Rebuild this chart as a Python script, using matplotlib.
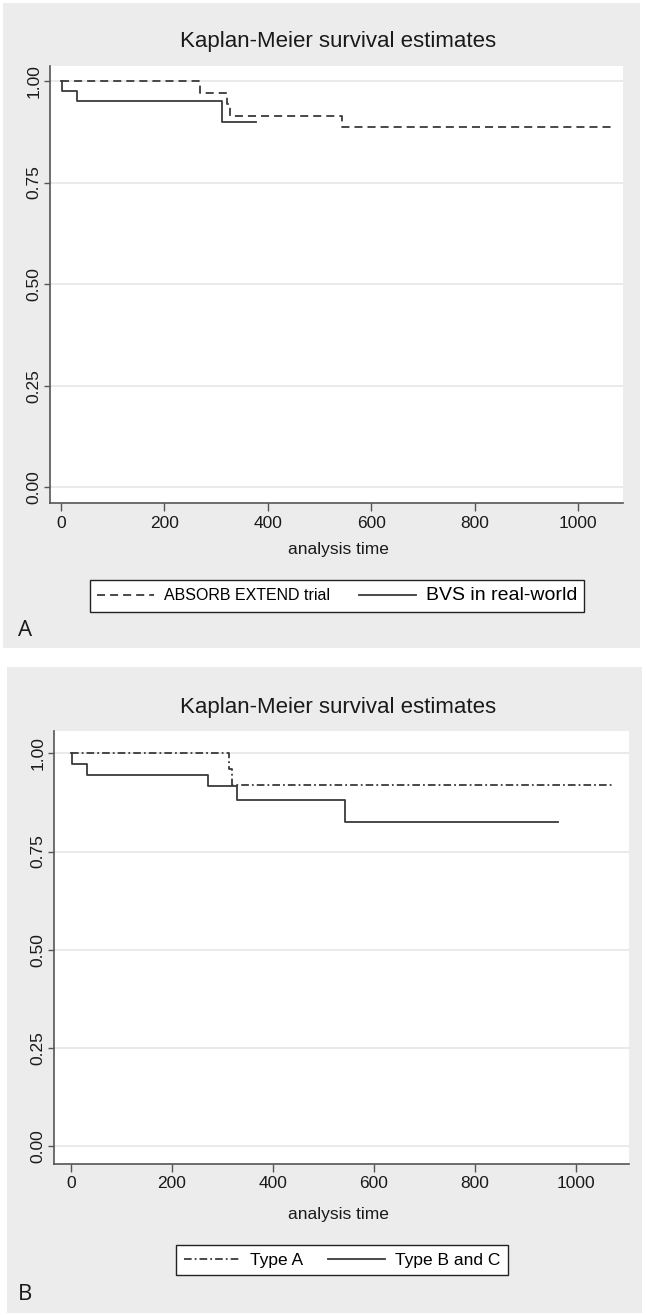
import matplotlib
matplotlib.use('Agg')
import matplotlib.pyplot as plt
from matplotlib.patches import Rectangle
from matplotlib.lines import Line2D

plt.rcParams['lines.scale_dashes'] = False

# ---------------- data ----------------
# Panel A
a_trial_time = [0, 268, 321, 327, 543, 1070]
a_trial_surv = [1.0, 0.971, 0.943, 0.914, 0.886, 0.886]
a_real_time = [0, 2, 31, 312, 378]
a_real_surv = [1.0, 0.976, 0.951, 0.898, 0.898]
a_labels = ['ABSORB EXTEND trial', 'BVS in real-world']

# Panel B
b_typeA_time = [0, 313, 319, 1072]
b_typeA_surv = [1.0, 0.96, 0.92, 0.92]
b_bc_time = [0, 2, 31, 271, 328, 543, 965]
b_bc_surv = [1.0, 0.974, 0.945, 0.916, 0.880, 0.824, 0.824]
b_labels = ['Type A', 'Type B and C']

x_ticks = [0, 200, 400, 600, 800, 1000]
y_ticks = [0.0, 0.25, 0.50, 0.75, 1.00]
y_ticklabels = ['0.00', '0.25', '0.50', '0.75', '1.00']
title = 'Kaplan-Meier survival estimates'
xlabel = 'analysis time'

# ---------------- style ----------------
W, H = 646, 1315
NARROW = ['Liberation Sans', 'DejaVu Sans']
WIDE = ['Liberation Sans', 'DejaVu Sans']
LINE = '#3a3a3a'
BG = '#ececec'
GRID = '#e6e6e6'
DASH = (0, (5.8, 3.6))
DASHDOT = (0, (5.5, 2.2, 1.3, 2.2))

fig = plt.figure(figsize=(W / 100, H / 100), dpi=100)
fig.patch.set_facecolor('white')


def fx(px):
    return px / W


def fy(py):
    return 1 - py / H


def panel(gx0, gy0, gx1, gy1, ax_box, xlim, ylim, title_y, xlabel_y,
          series, labels, leg_center, leg_size, leg_sizes, colspace,
          letter, letter_y):
    # gray outer background
    fig.patches.append(Rectangle((fx(gx0), fy(gy1)), fx(gx1 - gx0), (gy1 - gy0) / H,
                                 transform=fig.transFigure, facecolor=BG,
                                 edgecolor='none', zorder=-5))
    l, t, r, b = ax_box
    ax = fig.add_axes([fx(l), fy(b), fx(r - l), (b - t) / H])
    ax.set_zorder(2)
    ax.set_facecolor('white')
    for (tm, sv, ls) in series:
        ax.step(tm, sv, where='post', color=LINE, lw=1.3, linestyle=ls)
    ax.set_xlim(*xlim)
    ax.set_ylim(*ylim)
    ax.set_xticks(x_ticks)
    ax.set_xticklabels([str(v) for v in x_ticks], family=NARROW, fontsize=12.5,
                       color='#1a1a1a')
    ax.set_yticks(y_ticks)
    ax.set_yticklabels(y_ticklabels, family=WIDE, fontsize=12.5,
                       rotation=90, va='center', color='#1a1a1a')
    ax.tick_params(axis='x', length=6, width=1, color='#555555', pad=3)
    ax.tick_params(axis='y', length=4, width=1, color='#555555', pad=2)
    for s in ['top', 'right']:
        ax.spines[s].set_visible(False)
    for s in ['left', 'bottom']:
        ax.spines[s].set_color('#555555')
        ax.spines[s].set_linewidth(1.2)
    ax.grid(axis='y', color=GRID, lw=1.2)
    ax.set_axisbelow(True)
    fig.text(fx(338), fy(title_y), title, family=NARROW, fontsize=16,
             ha='center', va='center', color='#1a1a1a')
    fig.text(fx(338), fy(xlabel_y), xlabel, family=NARROW, fontsize=12.5,
             ha='center', va='center', color='#1a1a1a')
    handles = [Line2D([], [], color=LINE, lw=1.3, linestyle=s[2]) for s in series]
    leg = fig.legend(handles, labels, loc='center',
                     bbox_to_anchor=(fx(leg_center[0]), fy(leg_center[1])),
                     ncol=2, frameon=True, fancybox=False,
                     edgecolor='#222222', framealpha=1, borderpad=0.45,
                     handlelength=3.4, handletextpad=0.6, columnspacing=colspace,
                     borderaxespad=0, prop={'family': NARROW, 'size': leg_size})
    leg.get_frame().set_linewidth(1.0)
    leg.set_zorder(3)
    for txt, sz in zip(leg.get_texts(), leg_sizes):
        txt.set_fontsize(sz)
    fig.text(fx(18), fy(letter_y), letter, family=['Open Sans', 'DejaVu Sans'],
             fontsize=16, ha='left', va='center', color='#1a1a1a')
    return ax


panel(3, 3, 640, 648, (50, 66, 623, 503), (-21.3, 1087), (-0.039, 1.037),
      42, 549,
      [(a_trial_time, a_trial_surv, DASH), (a_real_time, a_real_surv, '-')],
      a_labels, (337, 596), 12, (11.5, 14), 1.75, 'A', 630)

panel(7, 667, 642, 1313, (54, 731, 629, 1164), (-33.7, 1105), (-0.046, 1.057),
      708, 1214,
      [(b_typeA_time, b_typeA_surv, DASHDOT), (b_bc_time, b_bc_surv, '-')],
      b_labels, (342, 1260), 12, (12.5, 12.5), 1.5, 'B', 1295)

fig.savefig('out.png', dpi=100, facecolor='white')
